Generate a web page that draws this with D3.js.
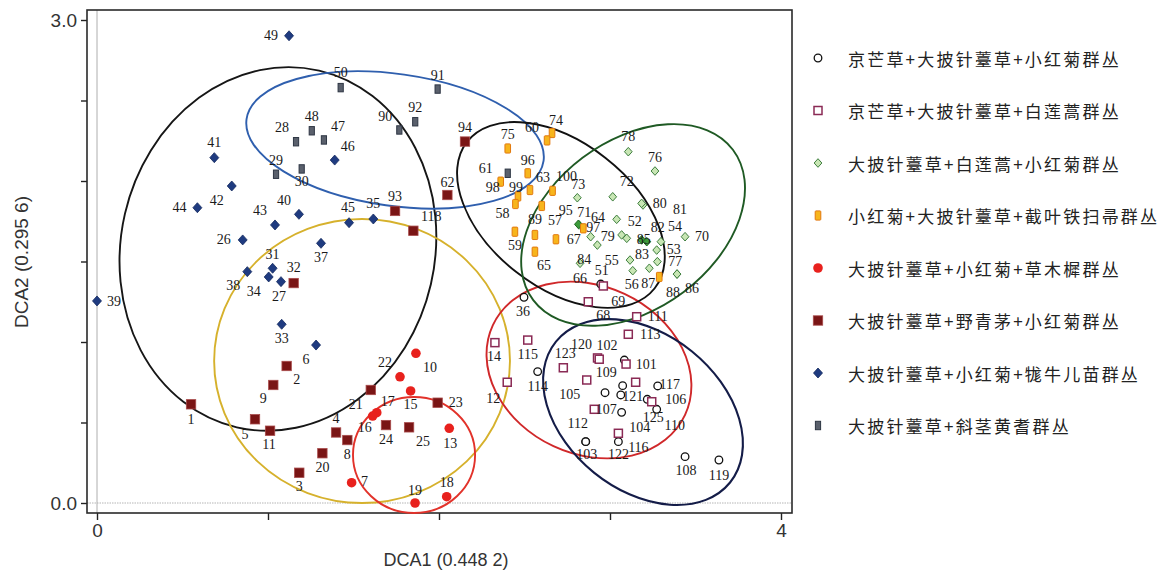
<!DOCTYPE html>
<html><head><meta charset="utf-8">
<script src="https://cdn.jsdelivr.net/npm/d3@7"></script>
<style>body{margin:0;background:#fff}svg{display:block}</style>
</head><body>
<svg id="c" width="1160" height="572"></svg>
<script>
// ---------- DATA ----------
const legendLabels = ["京芒草+大披针薹草+小红菊群丛","京芒草+大披针薹草+白莲蒿群丛","大披针薹草+白莲蒿+小红菊群丛","小红菊+大披针薹草+截叶铁扫帚群丛","大披针薹草+小红菊+草木樨群丛","大披针薹草+野青茅+小红菊群丛","大披针薹草+小红菊+牻牛儿苗群丛","大披针薹草+斜茎黄耆群丛"];
const xTicks = [0,1,2,3,4];
const yTicks = [0,0.5,1,1.5,2,2.5,3];
const xTitle = "DCA1 (0.448 2)";
const yTitle = "DCA2 (0.295 6)";

// [sample label, DCA1, DCA2]
const g1 = [["51",2.946,1.360],["36",2.497,1.278],["114",2.577,0.816],["101",3.084,0.888],["117",3.279,0.727],["121",3.074,0.729],["",2.971,0.685],["",3.063,0.671],["104",3.068,0.563],["125",3.218,0.644],["110",3.273,0.582],["122",3.049,0.381],["108",3.439,0.288],["119",3.637,0.267],["112",2.858,0.381],["103",2.858,0.381]];
const g2 = [["14",2.327,0.996],["115",2.519,1.012],["12",2.399,0.750],["123",2.727,0.840],["120",2.927,0.901],["109",2.937,0.893],["102",3.094,0.863],["105",2.864,0.764],["",3.150,0.750],["107",2.908,0.582],["106",3.244,0.629],["116",3.049,0.433],["113",3.107,1.048],["111",3.156,1.157],["68",2.873,1.250],["69",2.961,1.348]];
const g3 = [["73",2.809,1.896],["72",3.016,1.902],["78",3.107,2.182],["76",3.263,2.062],["81",3.193,1.851],["80",3.185,1.861],["52",3.039,1.762],["64",2.819,1.727],["71",2.815,1.731],["67",2.887,1.654],["79",3.068,1.665],["55",3.098,1.644],["85",3.185,1.634],["82",3.215,1.623],["54",3.298,1.623],["53",3.273,1.571],["83",3.117,1.509],["77",3.277,1.499],["84",2.926,1.602],["66",2.825,1.489],["56",3.133,1.443],["87",3.230,1.458],["86",3.392,1.422],["88",3.392,1.422],["70",3.439,1.654]];
const g4 = [["75",2.402,2.202],["74",2.661,2.298],["60",2.632,2.252],["96",2.519,2.048],["98",2.361,1.996],["99",2.462,1.904],["58",2.447,1.857],["63",2.532,1.944],["100",2.664,1.939],["95",2.601,1.845],["89",2.561,1.665],["59",2.444,1.685],["57",2.684,1.638],["65",2.561,1.561],["97",2.844,1.706],["",3.288,1.404]];
const g5 = [["10",1.865,0.930],["22",1.772,0.784],["15",1.834,0.696],["17",1.636,0.561],["16",1.612,0.540],["13",2.060,0.464],["7",1.489,0.126],["19",1.860,0.000],["18",2.045,0.039]];
const g6 = [["94",2.152,2.245],["62",2.049,1.913],["93",1.743,1.814],["118",1.850,1.691],["32",1.150,1.366],["2",1.109,0.851],["9",1.031,0.733],["1",0.550,0.613],["5",0.924,0.520],["11",1.012,0.449],["20",1.318,0.309],["3",1.183,0.188],["4",1.398,0.438],["21",1.601,0.702],["23",1.992,0.623],["24",1.690,0.484],["25",1.825,0.470],["8",1.464,0.391]];
const g7 = [["49",1.123,2.902],["41",0.686,2.145],["42",0.788,1.969],["44",0.587,1.834],["40",1.181,1.793],["43",1.041,1.727],["26",0.852,1.634],["37",1.310,1.613],["31",1.027,1.458],["38",0.879,1.437],["34",1.004,1.404],["27",1.076,1.375],["39",0.000,1.255],["33",1.080,1.110],["6",1.281,0.981],["46",1.390,2.130],["45",1.474,1.741],["35",1.616,1.764]];
const g8 = [["50",1.425,2.580],["91",1.992,2.571],["92",1.861,2.368],["90",1.768,2.317],["48",1.256,2.312],["28",1.164,2.244],["47",1.327,2.255],["29",1.047,2.042],["30",1.197,2.075],["61",2.402,2.048]];
const groups = [g1,g2,g3,g4,g5,g6,g7,g8];

// group ellipses: [centre DCA1, centre DCA2, semi-axis a (DCA1 units), semi-axis b (DCA2 units), tilt deg]
const ellipses = [[1.058,1.578,0.918,1.137,13],[1.743,2.255,0.877,0.410,8],[1.550,0.882,0.865,0.882,0],[1.854,0.298,0.357,0.360,0],[2.877,0.826,0.620,0.522,25],[3.193,0.565,0.655,0.484,39],[2.713,1.789,0.696,0.450,38],[3.135,1.727,0.731,0.522,-37]];

// ---------- LAYOUT / STYLE ----------
const ellipseColors = ["#161616","#2f5fae","#d6b12c","#e2322a","#d0282a","#141c48","#111111","#1f5a24"];
const darkGreenIds = ["71","85","82"];
const labelOffset = {
"49":[-18,0],"41":[0,-15],"42":[-15,15],"44":[-18,0],"40":[-15,-14],"43":[-15,-14],"26":[-19,0],"37":[0,14],"31":[0,-14],"38":[-14,14],"34":[-15,15],"27":[-2,15],"39":[17,1],"33":[0,14],"6":[-10,14],"46":[13,-14],"45":[-1,-15],"35":[0,-15],
"50":[0,-15],"91":[0,-14],"92":[0,-14],"90":[-14,-13],"48":[0,-14],"28":[-14,-14],"47":[14,-13],"29":[0,-14],"30":[0,13],"61":[-22,-5],
"94":[0,-14],"62":[0,-13],"93":[0,-14],"118":[18,-14],"32":[0,-16],"2":[10,14],"9":[-10,14],"1":[0,15],"5":[-10,15],"11":[-1,14],"20":[0,14],"3":[0,14],"4":[0,-14],"21":[-15,15],"23":[18,0],"24":[0,14],"25":[14,14],"8":[0,14],
"10":[14,14],"22":[-15,-14],"15":[0,14],"17":[11,-11],"16":[-8,11],"13":[1,15],"7":[13,-1],"19":[0,-13],"18":[0,-14],
"75":[0,-14],"74":[4,-13],"60":[-15,-13],"96":[0,-13],"98":[-8,6],"99":[-2,-9],"58":[-13,9],"63":[13,-13],"100":[14,-14],"95":[24,5],"89":[0,-15],"59":[0,14],"57":[-1,-19],"65":[9,14],"97":[10,-1],
"73":[1,-13],"72":[14,-15],"78":[0,-15],"76":[0,-14],"80":[18,0],"81":[37,5],"52":[18,2],"71":[6,-12],"64":[19,-7],"67":[-17,3],"79":[-14,2],"55":[-15,22],"85":[2,0],"82":[11,-14],"54":[14,-15],"53":[17,-1],"83":[12,-6],"77":[18,0],"84":[-13,14],"66":[0,15],"56":[-1,14],"87":[-1,15],"88":[-4,18],"86":[15,14],"70":[17,0],
"51":[1,-14],"36":[-1,14],"114":[0,15],"101":[22,4],"117":[12,-1],"121":[10,11],"104":[18,15],"125":[6,18],"110":[18,16],"122":[0,13],"108":[1,14],"119":[0,15],"112":[-8,-18],"103":[1,13],
"14":[-1,14],"115":[0,14],"12":[-14,16],"123":[2,-14],"109":[7,13],"120":[-16,-13],"102":[-19,-19],"105":[-17,15],"107":[12,0],"106":[24,-2],"116":[20,14],"113":[22,0],"111":[21,0],"68":[15,14],"69":[15,16]
};

// ---------- DRAW ----------
const svg = d3.select("#c");
const x = d3.scaleLinear().domain([0,4]).range([97,781]);
const y = d3.scaleLinear().domain([0,3]).range([503,20]);
const L=87, R=792, T=10, B=513;

// reference lines at 0
svg.append("line").attr("x1",x(0)).attr("x2",x(0)).attr("y1",T).attr("y2",B).attr("stroke","#9a9a9a").attr("stroke-width",0.8);
svg.append("line").attr("x1",L).attr("x2",R).attr("y1",y(0)).attr("y2",y(0)).attr("stroke","#b5b5b5").attr("stroke-width",1).attr("stroke-dasharray","1.5,1");

// axes
const yAxis = d3.axisLeft(y).tickValues(yTicks).tickSize(6).tickSizeOuter(0).tickPadding(4)
  .tickFormat(d => (d===0||d===3) ? d.toFixed(1) : "");
const gy = svg.append("g").attr("transform",`translate(${L},0)`).call(yAxis);
const xAxis = d3.axisBottom(x).tickValues(xTicks).tickSize(7).tickSizeOuter(0).tickPadding(4)
  .tickFormat(d => (d===0||d===4) ? d : "");
const gx = svg.append("g").attr("transform",`translate(0,${B})`).call(xAxis);
[gx,gy].forEach(g=>{
  g.select(".domain").remove();
  g.selectAll(".tick line").attr("stroke","#222").attr("stroke-width",1.4);
  g.selectAll(".tick text").attr("fill","#333").style("font-family","'Liberation Sans',Arial,sans-serif").style("font-size","19px");
});

// frame
svg.append("rect").attr("x",L).attr("y",T).attr("width",R-L).attr("height",B-T).attr("fill","none").attr("stroke","#2a2a2a").attr("stroke-width",1.6);

// titles
svg.append("text").attr("x",446).attr("y",566).attr("text-anchor","middle").attr("fill","#333")
  .style("font-family","'Liberation Sans',Arial,sans-serif").style("font-size","18px").text(xTitle);
svg.append("text").attr("transform","translate(28,262) rotate(-90)").attr("text-anchor","middle").attr("fill","#333")
  .style("font-family","'Liberation Sans',Arial,sans-serif").style("font-size","19px").text(yTitle);

// ellipses
const ge = svg.append("g").attr("fill","none");
ellipses.forEach((e,i)=>{
  ge.append("ellipse")
    .attr("transform",`translate(${x(e[0])},${y(e[1])}) rotate(${e[4]})`)
    .attr("rx",x(e[2])-x(0)).attr("ry",y(0)-y(e[3]))
    .attr("stroke",ellipseColors[i]).attr("stroke-width",i===5?2.1:1.9);
});

// marker painters
const diamond = s => `M0,${-s}L${s*0.9},0L0,${s}L${-s*0.9},0Z`;
function marker(sel, gi, label){
  switch(gi){
    case 0: sel.append("circle").attr("r",3.8).attr("fill","#fff").attr("fill-opacity",0.6).attr("stroke","#111").attr("stroke-width",1.3); break;
    case 1: sel.append("rect").attr("x",-4).attr("y",-4).attr("width",8).attr("height",8).attr("fill","#fff").attr("stroke","#8a2a55").attr("stroke-width",1.5); break;
    case 2: {
      const dk = darkGreenIds.includes(label);
      sel.append("path").attr("d",diamond(4.3)).attr("fill",dk?"#3c9a3a":"#c8e6b4").attr("stroke",dk?"#1f6a22":"#3f7f3f").attr("stroke-width",1); break; }
    case 3: sel.append("rect").attr("x",-2.8).attr("y",-4.6).attr("width",5.6).attr("height",9.2).attr("rx",0.8).attr("fill","#f7b51c").attr("stroke","#e2780e").attr("stroke-width",1); break;
    case 4: sel.append("circle").attr("r",4.8).attr("fill","#e8211d"); break;
    case 5: sel.append("rect").attr("x",-4.7).attr("y",-4.7).attr("width",9.4).attr("height",9.4).attr("fill","#7a1515").attr("stroke","#a84a4a").attr("stroke-width",0.8); break;
    case 6: sel.append("path").attr("d",diamond(5)).attr("fill","#1f3b80").attr("stroke","#142a5e").attr("stroke-width",0.8); break;
    case 7: sel.append("rect").attr("x",-2.6).attr("y",-4.2).attr("width",5.2).attr("height",8.4).attr("fill","#5a606c").attr("stroke","#2e3644").attr("stroke-width",1); break;
  }
}

const gp = svg.append("g");
groups.forEach((arr,gi)=>{
  arr.forEach(d=>{
    const m = gp.append("g").attr("transform",`translate(${x(d[1])},${y(d[2])})`);
    marker(m, gi, d[0]);
  });
});

// labels
const gl = svg.append("g").style("font-family","'Liberation Serif','Times New Roman',serif").style("font-size","14px").attr("fill","#1a1a1a")
  .attr("text-anchor","middle").attr("dominant-baseline","central");
groups.forEach(arr=>{
  arr.forEach(d=>{
    if(!d[0]) return;
    const o = labelOffset[d[0]] || [0,-14];
    gl.append("text").attr("x",x(d[1])+o[0]).attr("y",y(d[2])+o[1]).text(d[0]);
  });
});

// legend
const lg = svg.append("g");
legendLabels.forEach((t,i)=>{
  const yy = 58 + i*52.5;
  const m = lg.append("g").attr("transform",`translate(818,${yy})`);
  marker(m, i, "");
  lg.append("text").attr("x",848).attr("y",yy).attr("dominant-baseline","central").attr("fill","#222")
    .style("font-family","'Noto Sans CJK SC',sans-serif").style("font-size","17px").style("letter-spacing","2.2px").text(t);
});
</script>
</body></html>
